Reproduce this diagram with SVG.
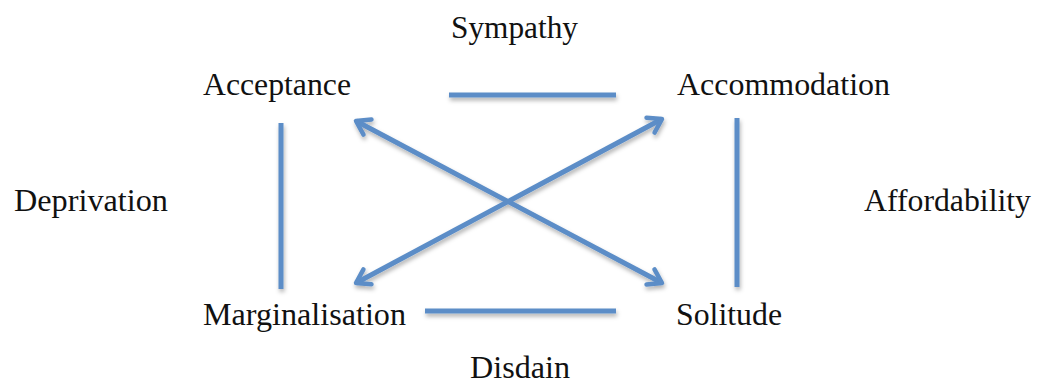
<svg xmlns="http://www.w3.org/2000/svg" width="1042" height="385" viewBox="0 0 1042 385">
<style>
.lbl{font-family:"Liberation Serif","Times New Roman",serif;font-size:31px;fill:#111}
.ln{stroke:#5B8DC7;stroke-width:5;fill:none;stroke-linecap:butt}
</style>
<defs>
<filter id="sh" x="-10%" y="-10%" width="120%" height="130%">
<feDropShadow dx="1" dy="3" stdDeviation="2" flood-color="#000" flood-opacity="0.3"/>
</filter>
<marker id="ah" viewBox="-20 -12 24 24" refX="0" refY="0" markerWidth="24" markerHeight="24" markerUnits="userSpaceOnUse" orient="auto-start-reverse">
<path d="M-13,-8.5 L0,0 L-13,8.5" fill="none" stroke="#5B8DC7" stroke-width="4.5" stroke-linecap="round" stroke-linejoin="round"/>
</marker>
</defs>
<rect width="1042" height="385" fill="#fff"/>
<g id="connectors" filter="url(#sh)">
<line class="ln" x1="449" y1="95" x2="616" y2="95"/>
<line class="ln" x1="425" y1="311" x2="616" y2="311"/>
<line class="ln" x1="281" y1="123" x2="281" y2="289"/>
<line class="ln" x1="737" y1="118" x2="737" y2="287"/>
<line class="ln" x1="356" y1="121" x2="662" y2="283" marker-start="url(#ah)" marker-end="url(#ah)"/>
<line class="ln" x1="662" y1="119" x2="356" y2="283" marker-start="url(#ah)" marker-end="url(#ah)"/>
</g>
<g id="acceptance"><text class="lbl" x="203" y="95" textLength="148" lengthAdjust="spacingAndGlyphs">Acceptance</text></g>
<g id="accommodation"><text class="lbl" x="677" y="95" textLength="213" lengthAdjust="spacingAndGlyphs">Accommodation</text></g>
<g id="marginalisation"><text class="lbl" x="203" y="325" textLength="203" lengthAdjust="spacingAndGlyphs">Marginalisation</text></g>
<g id="solitude"><text class="lbl" x="676" y="325" textLength="106" lengthAdjust="spacingAndGlyphs">Solitude</text></g>
<g id="sympathy"><text class="lbl" x="451" y="38" textLength="127" lengthAdjust="spacingAndGlyphs">Sympathy</text></g>
<g id="disdain"><text class="lbl" x="470" y="378" textLength="100" lengthAdjust="spacingAndGlyphs">Disdain</text></g>
<g id="deprivation"><text class="lbl" x="14" y="211" textLength="154" lengthAdjust="spacingAndGlyphs">Deprivation</text></g>
<g id="affordability"><text class="lbl" x="864" y="211" textLength="167" lengthAdjust="spacingAndGlyphs">Affordability</text></g>
</svg>
